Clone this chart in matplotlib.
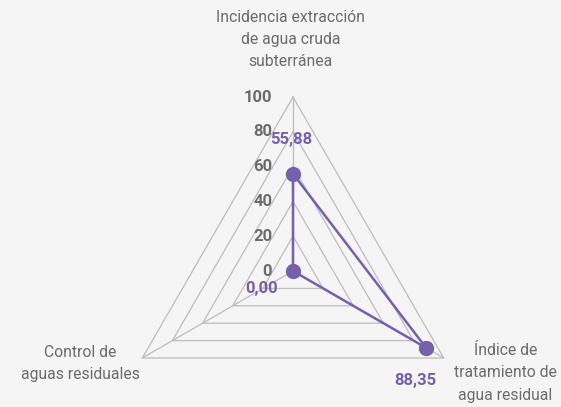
import numpy as np
import matplotlib
matplotlib.use("Agg")
import matplotlib.pyplot as plt

categories = ["Incidencia extracción\nde agua cruda\nsubterránea",
              "Índice de\ntratamiento de\nagua residual",
              "Control de\naguas residuales"]
values = [55.88, 88.35, 0.00]
value_labels = ["55,88", "88,35", "0,00"]
ticks = [0, 20, 40, 60, 80, 100]

PURPLE = "#7560ad"
GRID = "#bdbdbd"
TXT = "#6b6b6b"
BG = "#f5f5f5"

plt.rcParams["font.family"] = ["Roboto", "DejaVu Sans"]

# angles clockwise from the top
ang = np.deg2rad([0, 120, 240])


def xy(r, a):
    return r * np.sin(a), r * np.cos(a)


fig = plt.figure(figsize=(5.61, 4.07), dpi=100, facecolor=BG)
ax = fig.add_axes([0, 0, 1, 1])
ax.set_facecolor(BG)
s = 1.74  # px per unit
cx, cy = 293, 271
ax.set_xlim(-cx / s, (561 - cx) / s)
ax.set_ylim(-(407 - cy) / s, cy / s)
ax.axis("off")

# triangular grid
for t in ticks[1:]:
    gx, gy = xy(t, np.append(ang, ang[0]))
    ax.plot(gx, gy, color=GRID, lw=0.9, zorder=1)
for a in ang:
    ex, ey = xy(100, a)
    ax.plot([0, ex], [0, ey], color=GRID, lw=0.9, zorder=1)

# tick labels along the top axis
for t in ticks:
    ax.text(-12, t, str(t), ha="right", va="center", fontsize=12,
            fontweight="bold", color=TXT, zorder=3)

# data polygon
px, py = xy(np.array(values), ang)
ax.plot(np.append(px, px[0]), np.append(py, py[0]), color=PURPLE, lw=1.8, zorder=4)
ax.plot(px, py, "o", color=PURPLE, ms=10, zorder=5)

# value labels
offs = [(-1, 19.5), (-6, -19), (-18, -10)]
for (x0, y0), lab, (dx, dy) in zip(zip(px, py), value_labels, offs):
    ax.text(x0 + dx, y0 + dy, lab, ha="center", va="center", fontsize=12,
            fontweight="bold", color=PURPLE, zorder=6)

# category labels
cat_pos = [(-1.5, 133), (122, -58.6), (-122.4, -53.2)]
for lab, (lx, ly) in zip(categories, cat_pos):
    ax.text(lx, ly, lab, ha="center", va="center", fontsize=11.3, color=TXT,
            linespacing=1.6)

fig.savefig("out.png", dpi=100, facecolor=BG)
